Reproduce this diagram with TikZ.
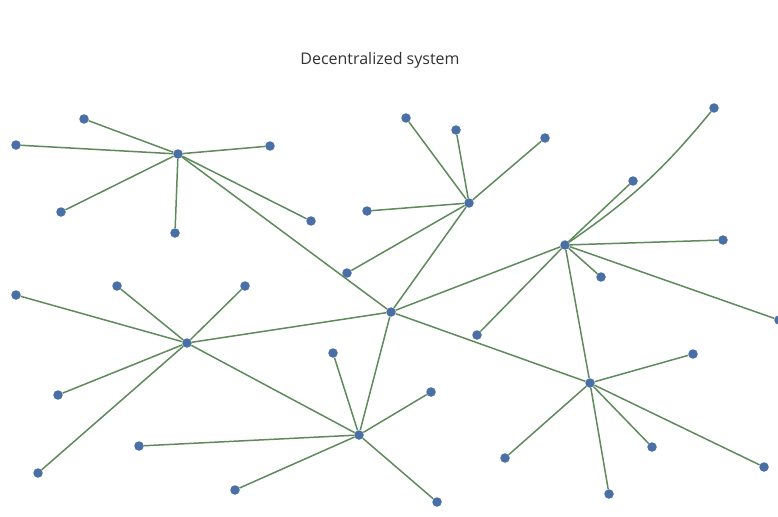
\documentclass[tikz,border=0pt]{standalone}
\usepackage{fontspec}
\setmainfont{Open Sans}
\usepackage{tikz}
\usetikzlibrary{positioning}

\definecolor{dotblue}{HTML}{4A6FA5}
\definecolor{linkgreen}{HTML}{5F8A5B}

\begin{document}
\begin{tikzpicture}[
      x=1pt, y=-1pt,
      dot/.style={circle, fill=dotblue, inner sep=0pt, minimum size=9.5pt},
      hub/.style={dot},
      link/.style={draw=linkgreen, line width=1.5pt}
    ]
    \useasboundingbox[fill=white] (0,0) rectangle (778,516);
    % title
    \node[font=\fontsize{16}{19}\selectfont, text=black!80] (title) at (380,60) {Decentralized system};
    % hubs
    \node[hub] (hubA) at (178,154) {};
    \node[hub] (hubB) at (469,203) {};
    \node[hub] (hubC) at (391,312) {};
    \node[hub] (hubD) at (187,343) {};
    \node[hub] (hubE) at (565,245) {};
    \node[hub] (hubF) at (359,435) {};
    \node[hub] (hubG) at (590,383) {};
    % leaves around the top-left hub
    \node[dot] (a1) at (84,119) {};
    \node[dot] (a2) at (16,145) {};
    \node[dot] (a3) at (270,146) {};
    \node[dot] (a4) at (61,212) {};
    \node[dot] (a5) at (175,233) {};
    \node[dot] (a6) at (311,221) {};
    % leaves around the top-middle hub
    \node[dot] (b1) at (406,118) {};
    \node[dot] (b2) at (456,130) {};
    \node[dot] (b3) at (545,138) {};
    \node[dot] (b4) at (367,211) {};
    \node[dot] (b5) at (347,273) {};
    % leaves around the left hub
    \node[dot] (d1) at (16,295) {};
    \node[dot] (d2) at (117,286) {};
    \node[dot] (d3) at (245,286) {};
    \node[dot] (d4) at (58,395) {};
    \node[dot] (d5) at (38,473) {};
    % leaves around the right hub
    \node[dot] (e1) at (714,108) {};
    \node[dot] (e2) at (633,181) {};
    \node[dot] (e3) at (723,240) {};
    \node[dot] (e4) at (601,277) {};
    \node[dot] (e5) at (779,320) {};
    \node[dot] (e6) at (477,335) {};
    % leaves around the bottom-middle hub
    \node[dot] (f1) at (333,353) {};
    \node[dot] (f2) at (431,392) {};
    \node[dot] (f3) at (139,446) {};
    \node[dot] (f4) at (235,490) {};
    \node[dot] (f5) at (437,502) {};
    % leaves around the bottom-right hub
    \node[dot] (g1) at (693,354) {};
    \node[dot] (g2) at (505,458) {};
    \node[dot] (g3) at (652,447) {};
    \node[dot] (g4) at (609,494) {};
    \node[dot] (g5) at (764,467) {};
    % hub to hub
    \draw[link] (hubA) -- (hubC);
    \draw[link] (hubB) -- (hubC);
    \draw[link] (hubD) -- (hubC);
    \draw[link] (hubE) -- (hubC);
    \draw[link] (hubF) -- (hubC);
    \draw[link] (hubG) -- (hubC);
    \draw[link] (hubD) -- (hubF);
    \draw[link] (hubE) -- (hubG);
    % spokes
    \draw[link] (hubA) -- (a1);
    \draw[link] (hubA) -- (a2);
    \draw[link] (hubA) -- (a3);
    \draw[link] (hubA) -- (a4);
    \draw[link] (hubA) -- (a5);
    \draw[link] (hubA) -- (a6);
    \draw[link] (hubB) -- (b1);
    \draw[link] (hubB) -- (b2);
    \draw[link] (hubB) -- (b3);
    \draw[link] (hubB) -- (b4);
    \draw[link] (hubB) -- (b5);
    \draw[link] (hubD) -- (d1);
    \draw[link] (hubD) -- (d2);
    \draw[link] (hubD) -- (d3);
    \draw[link] (hubD) -- (d4);
    \draw[link] (hubD) -- (d5);
    \draw[link] (hubE) to[bend right=8] (e1);
    \draw[link] (hubE) -- (e2);
    \draw[link] (hubE) -- (e3);
    \draw[link] (hubE) -- (e4);
    \draw[link] (hubE) -- (e5);
    \draw[link] (hubE) -- (e6);
    \draw[link] (hubF) -- (f1);
    \draw[link] (hubF) -- (f2);
    \draw[link] (hubF) -- (f3);
    \draw[link] (hubF) -- (f4);
    \draw[link] (hubF) -- (f5);
    \draw[link] (hubG) -- (g1);
    \draw[link] (hubG) -- (g2);
    \draw[link] (hubG) -- (g3);
    \draw[link] (hubG) -- (g4);
    \draw[link] (hubG) -- (g5);
\end{tikzpicture}
\end{document}
